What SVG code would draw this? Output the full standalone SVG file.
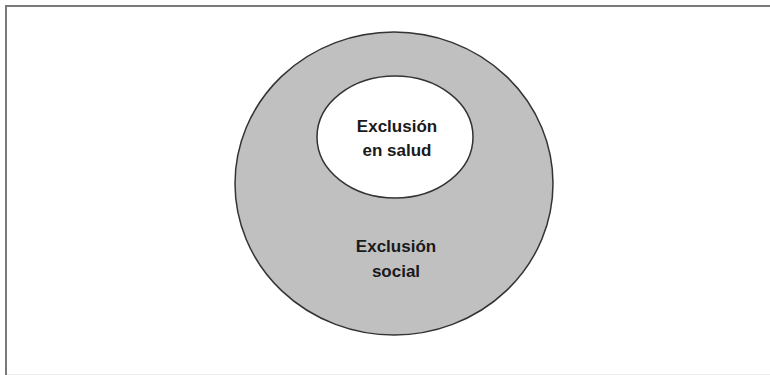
<svg xmlns="http://www.w3.org/2000/svg" width="770" height="375" viewBox="0 0 770 375">
  <style>
    .frame { stroke: #7a7a7a; stroke-width: 2; fill: none; }
    .ring { stroke: #333333; stroke-width: 1.5; }
    .label { font-family: "Liberation Sans", Arial, sans-serif; font-weight: bold; font-size: 17px; fill: #1a1a1a; text-anchor: middle; }
  </style>
  <rect width="770" height="375" fill="#ffffff"/>
  <!-- open frame: top and left rules -->
  <path class="frame" d="M6,380 V6 H780"/>
  <line x1="7" y1="374.5" x2="770" y2="374.5" stroke="#ececec" stroke-width="1"/>

  <g id="exclusion-social">
    <ellipse class="ring" cx="394" cy="183.5" rx="159" ry="151.5" fill="#c0c0c0"/>
    <text class="label" x="396" y="252">Exclusión</text>
    <text class="label" x="396" y="277">social</text>
  </g>

  <g id="exclusion-salud">
    <ellipse class="ring" cx="395" cy="137" rx="78" ry="61" fill="#ffffff"/>
    <text class="label" x="397" y="132">Exclusión</text>
    <text class="label" x="397" y="156">en salud</text>
  </g>

  <g id="connectors"></g>
</svg>
